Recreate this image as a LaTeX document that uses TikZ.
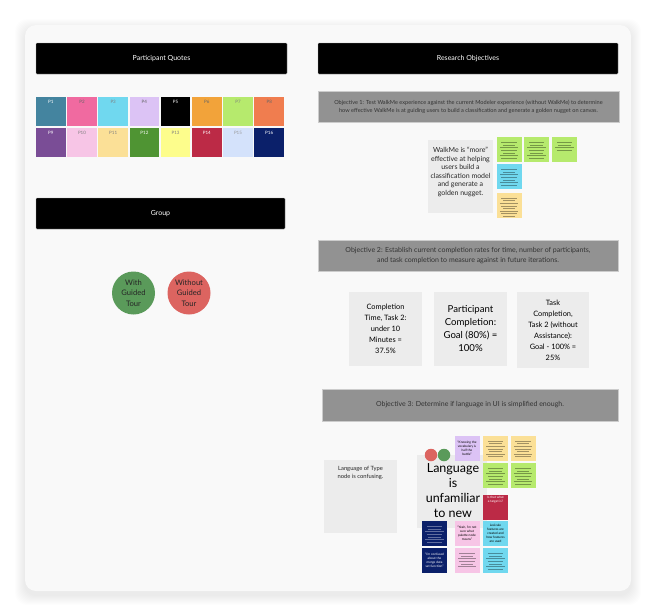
\documentclass[tikz,border=0pt]{standalone}
\usepackage{fontspec}
\setmainfont{Lato}
\usepackage{xcolor}
\usetikzlibrary{positioning, calc}

\definecolor{cardbg}{HTML}{F9F9F9}
\definecolor{objgray}{HTML}{929292}
\definecolor{boxgray}{HTML}{ECECEC}
\definecolor{qa}{HTML}{44849F}
\definecolor{qb}{HTML}{F06AA0}
\definecolor{qc}{HTML}{70D8EF}
\definecolor{qd}{HTML}{DCC3F5}
\definecolor{qe}{HTML}{000000}
\definecolor{qf}{HTML}{F2A33A}
\definecolor{qg}{HTML}{B6EA6D}
\definecolor{qh}{HTML}{F07D4F}
\definecolor{qi}{HTML}{7A4D96}
\definecolor{qj}{HTML}{F7C5E6}
\definecolor{qk}{HTML}{FBE097}
\definecolor{ql}{HTML}{4F9433}
\definecolor{qm}{HTML}{FDFD8C}
\definecolor{qn}{HTML}{BC2A46}
\definecolor{qo}{HTML}{D4E2FB}
\definecolor{qp}{HTML}{0B206A}
\definecolor{withgreen}{HTML}{5A9A5A}
\definecolor{withoutred}{HTML}{DC6460}

% rows of unreadable sticky text
\newcommand\scrib[3]{%
  \foreach \k in {1,...,#2}{
    \pgfmathsetmacro\ins{3.5+1.5*mod(\k,3)}
    \draw[#3, line width=0.4pt, opacity=0.35]
      ($(#1.north west)+(\ins,3+2.6*\k)$) -- ($(#1.north east)+(-\ins,3+2.6*\k)$);
  }}

\begin{document}
\begin{tikzpicture}[x=1pt, y=-1pt,
    every node/.style={inner sep=0pt, align=center, font=\fontsize{7}{8.5}\selectfont},
    header/.style={fill=black, draw=gray!70, line width=0.3pt, rounded corners=0.8pt,
                   text=white, minimum height=31},
    objective/.style={fill=objgray, draw=gray!40, line width=0.3pt, text=black!80,
                      minimum height=31},
    quote/.style={minimum width=29.5, minimum height=29},
    qlabel/.style={font=\fontsize{4.5}{5}\selectfont},
    tour/.style={circle, minimum size=43, text=black!85,
                 font=\fontsize{7.6}{10.5}\selectfont},
    finding/.style={fill=boxgray, minimum width=73, minimum height=74},
    sticky/.style={minimum width=25, minimum height=25,
                   font=\fontsize{3.2}{3.9}\selectfont},
  ]
  \useasboundingbox (0,0) rectangle (656,613);
  \fill[white] (0,0) rectangle (656,613);

  % card with soft shadow
  \foreach \s in {1,...,10}
    \fill[black, opacity=0.008, rounded corners=12] (25-\s,25-\s+4) rectangle (631+\s,591+\s+4);
  \fill[cardbg, rounded corners=11] (25,25) rectangle (631,591);

  % headers
  \node[header, minimum width=251] (quotes) at (161.5,58.5) {Participant Quotes};
  \node[header, minimum width=300] (research) at (468,58.5) {Research Objectives};
  \node[header, minimum width=249] (group) at (160.5,213.5) {Group};

  % participant colour swatches
  \foreach \col/\tc [count=\i] in {qa/white!85, qb/black!60, qc/black!50, qd/black!60,
                                   qe/white!85, qf/black!60, qg/black!50, qh/black!60,
                                   qi/white!85, qj/black!50, qk/black!50, ql/white!85,
                                   qm/black!50, qn/white!85, qo/black!40, qp/white!85} {
    \pgfmathtruncatemacro\r{(\i-1)/8}
    \pgfmathtruncatemacro\c{mod(\i-1,8)}
    \node[quote, fill=\col] (p\i) at ({50.8+31.2*\c},{111.5+31*\r}) {};
    \node[qlabel, text=\tc] (p\i lab) at ({50.8+31.2*\c},{102+31*\r}) {P\i};
  }

  % groups
  \node[tour, fill=withgreen] (with) at (133.5,293) {With\\Guided\\Tour};
  \node[tour, fill=withoutred] (without) at (189,293) {Without\\Guided\\Tour};

  % objective 1
  \node[objective, minimum width=301, font=\fontsize{5.6}{7.7}\selectfont] (obj1) at (468.5,106.5)
    {Objective 1: Test WalkMe experience against the current Modeler experience (without WalkMe) to determine\\
     how effective WalkMe is at guiding users to build a classification and generate a golden nugget on canvas.};
  \node[fill=boxgray, minimum width=65, minimum height=73] (walkme) at (460.5,176.5) {};
  \node[font=\fontsize{7}{8.5}\selectfont, text=black!85] (walkmetext) at (460.5,172)
    {WalkMe is ``more''\\effective at helping\\users build a\\classification model\\and generate a\\golden nugget.};
  \node[sticky, fill=qg] (g1) at (509,149.5) {};
  \node[sticky, fill=qg] (g2) at (536.5,149.5) {};
  \node[sticky, fill=qg] (g3) at (564.5,149.5) {};
  \node[sticky, fill=qc] (c1) at (509,176.5) {};
  \node[sticky, fill=qk] (y1) at (509,205) {};
  \scrib{g1}{7}{black}
  \scrib{g2}{7}{black}
  \scrib{g3}{4}{black}
  \scrib{c1}{7}{black}
  \scrib{y1}{8}{black}

  % objective 2
  \node[objective, minimum width=300, font=\fontsize{7}{10}\selectfont] (obj2) at (468,255.5)
    {Objective 2: Establish current completion rates for time, number of participants,\\
     and task completion to measure against in future iterations.};
  \node[finding, font=\fontsize{7.4}{11}\selectfont] (timebox) at (385.5,329)
    {Completion\\Time, Task 2:\\under 10\\Minutes =\\37.5\%};
  \node[finding, font=\fontsize{9.6}{13}\selectfont] (partbox) at (470.5,329)
    {Participant\\Completion:\\Goal (80\%) =\\100\%};
  \node[finding, minimum width=72, minimum height=76, font=\fontsize{7.4}{11}\selectfont] (taskbox) at (553,330)
    {Task\\Completion,\\Task 2 (without\\Assistance):\\Goal - 100\% =\\25\%};

  % objective 3
  \node[objective, minimum width=296, minimum height=32] (obj3) at (470,405)
    {Objective 3: Determine if language in UI is simplified enough.};
  \node[finding, minimum height=73] (typebox) at (360.5,496.5) {};
  \node[font=\fontsize{5.8}{8}\selectfont, text=black!85] (typetext) at (360.5,473)
    {Language of Type\\node is confusing.};
  \node[fill=boxgray, minimum width=70, minimum height=73] (langbox) at (452,491.5) {};
  \node[font=\fontsize{12.5}{15}\selectfont] (langtext) at (453,491)
    {Language\\is\\unfamiliar\\to new};
  \node[circle, fill=withoutred, minimum size=12.5] (reddot) at (431,455) {};
  \node[circle, fill=withgreen, minimum size=12.5] (greendot) at (444,455) {};

  \node[sticky, fill=qd] (lav) at (467,448) {``Knowing the\\vocabulary is\\half the\\battle''};
  \node[sticky, fill=qk] (ya) at (495.5,448) {};
  \node[sticky, fill=qk] (yb) at (523,448) {};
  \node[sticky, fill=qg] (ga) at (495.5,475.5) {};
  \node[sticky, fill=qg] (gb) at (523,475.5) {};
  \node[sticky, fill=qn, text=white, anchor=north, text depth=16] (target) at (495.5,495)
    {Is that what\\a target is?};
  \node[sticky, fill=qp] (na) at (434.5,533.5) {};
  \node[sticky, fill=qj] (pa) at (467,533.5) {``Yeah, I'm not\\sure what\\palette node\\means''};
  \node[sticky, fill=qc] (ca) at (495.5,533.5) {Lexicale\\features are\\created and\\how features\\are used};
  \node[sticky, fill=qp, text=white] (nb) at (434.5,560.5) {``I'm confused\\about the\\merge data\\set function''};
  \node[sticky, fill=qj] (pb) at (467,560.5) {};
  \node[sticky, fill=qc] (cb) at (495.5,560.5) {};
  \scrib{ya}{7}{black}
  \scrib{yb}{7}{black}
  \scrib{ga}{7}{black}
  \scrib{gb}{7}{black}
  \scrib{na}{7}{white}
  \scrib{pb}{6}{black}
  \scrib{cb}{7}{black}
\end{tikzpicture}
\end{document}
